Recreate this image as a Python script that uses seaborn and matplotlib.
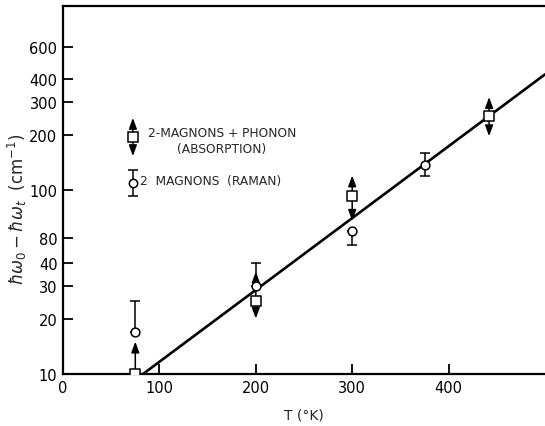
import numpy as np
import pandas as pd
import matplotlib
matplotlib.use("Agg")
import matplotlib.pyplot as plt
import seaborn as sns

# ---- data ----
T_abs = [75, 200, 300, 442]
y_abs = [10, 25, 93, 252]
abs_up_tip = [15, 36, 120, 320]
abs_down_tip = [None, 20, 68, 196]

T_ram = [75, 200, 300, 375]
y_ram = [17, 30, 60, 137]
ram_low = [17, 30, 50, 119]
ram_high = [25, 40, 60, 159]

T_fit = [83, 500]
y_fit = [10, 425]

yticks = [10, 20, 30, 40, 55, 100, 200, 300, 400, 600]
ytick_labels = ["10", "20", "30", "40", "80", "100", "200", "300", "400", "600"]
xticks = [0, 100, 200, 300, 400]
xtick_labels = ["0", "100", "200", "300", "400"]

sns.set_style("ticks")
plt.rcParams["font.family"] = ["DejaVu Sans"]

fig = plt.figure(figsize=(5.45, 4.27), dpi=100)
ax = fig.add_axes([63/545, 1-375/427, 482/545, 368/427])

ax.set_yscale("log")
ax.set_xlim(0, 500)
ax.set_ylim(10, 1000)

# fit line
sns.lineplot(x=T_fit, y=y_fit, ax=ax, color="black", lw=1.9, zorder=2)

# Raman error bars
yerr = [np.array(y_ram) - np.array(ram_low), np.array(ram_high) - np.array(y_ram)]
ax.errorbar(T_ram, y_ram, yerr=yerr, fmt="none", ecolor="black", elinewidth=1.1,
            capsize=3.5, capthick=1.1, zorder=3)

arrow = dict(arrowstyle="-|>,head_length=0.65,head_width=0.24",
             color="black", lw=1.1, shrinkA=3, shrinkB=0)

# absorption arrows
for T, y, up, dn in zip(T_abs, y_abs, abs_up_tip, abs_down_tip):
    if up is not None:
        ax.annotate("", xy=(T, up), xytext=(T, y), arrowprops=arrow, zorder=3)
    if dn is not None:
        ax.annotate("", xy=(T, dn), xytext=(T, y), arrowprops=arrow, zorder=3)

sns.scatterplot(x=T_ram, y=y_ram, ax=ax, marker="o", s=40, facecolor="white",
                edgecolor="black", linewidth=1.1, zorder=4)
sns.scatterplot(x=T_abs, y=y_abs, ax=ax, marker="s", s=45, facecolor="white",
                edgecolor="black", linewidth=1.1, zorder=4)

# ---- legend (manual, axes fraction) ----
lx = 0.145
ax.plot([lx], [0.644], marker="s", ms=6.5, mfc="white", mec="black", mew=1.1,
        transform=ax.transAxes, zorder=5)
for tip in (0.696, 0.592):
    ax.annotate("", xy=(lx, tip), xytext=(lx, 0.644), xycoords="axes fraction",
                arrowprops=arrow)
ax.errorbar([lx], [0.52], yerr=[[0.035], [0.035]], fmt="o", ms=6, mfc="white",
            mec="black", mew=1.1, ecolor="black", elinewidth=1.1, capsize=3.5,
            capthick=1.1, transform=ax.transAxes, zorder=5)
ax.text(0.176, 0.655, "2-MAGNONS + PHONON", transform=ax.transAxes,
        fontsize=8.8, va="center", ha="left")
ax.text(0.33, 0.612, "(ABSORPTION)", transform=ax.transAxes,
        fontsize=8.8, va="center", ha="center")
ax.text(0.16, 0.525, "2  MAGNONS  (RAMAN)", transform=ax.transAxes,
        fontsize=8.8, va="center", ha="left")

# ---- axes styling ----
ax.set_yticks(yticks)
ax.set_yticklabels(ytick_labels)
ax.yaxis.set_minor_locator(matplotlib.ticker.NullLocator())
ax.set_xticks(xticks)
ax.set_xticklabels(xtick_labels)
ax.tick_params(axis="both", direction="in", length=7, width=1.3, labelsize=10.5,
               colors="black", pad=4)
for side in ("left", "top", "bottom"):
    ax.spines[side].set_visible(True)
    ax.spines[side].set_linewidth(1.6)
    ax.spines[side].set_color("black")
ax.spines["right"].set_visible(False)

ax.set_xlabel("T (°K)", fontsize=10, labelpad=9)
ax.set_ylabel(r"$\hbar\omega_0 - \hbar\omega_t$  (cm$^{-1}$)", fontsize=12)
ax.yaxis.set_label_coords(-0.07, 0.45)

fig.savefig("out.png", dpi=100)
